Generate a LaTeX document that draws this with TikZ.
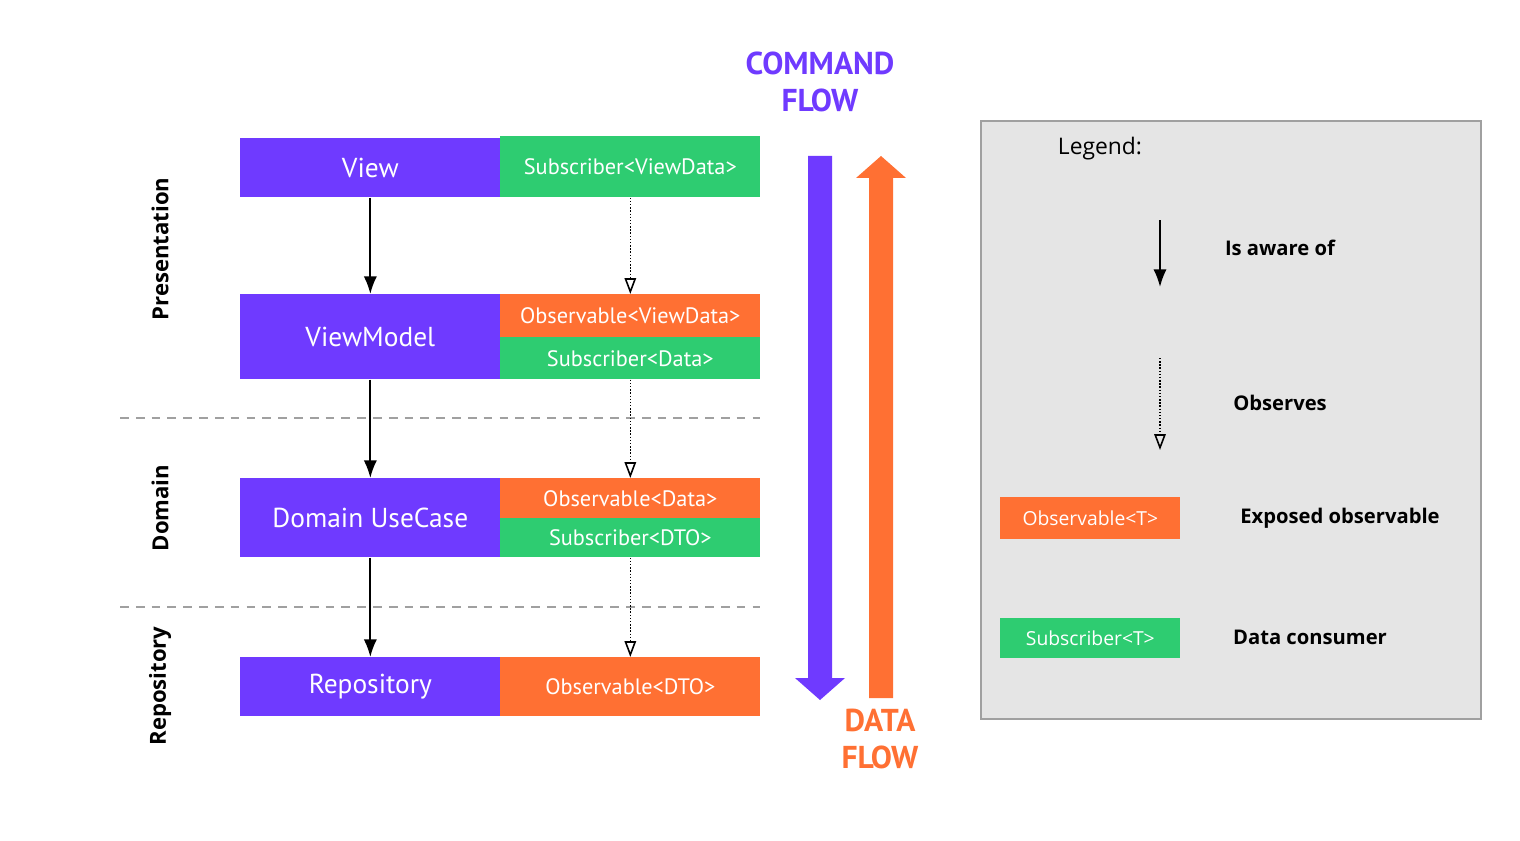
\documentclass[tikz,border=0pt]{standalone}
\usepackage{fontspec}
\setmainfont{PT Sans}
\newfontfamily\legfont{Open Sans}
\usetikzlibrary{arrows.meta}
\definecolor{cmdpurple}{HTML}{6F3AFF}
\definecolor{obsorange}{HTML}{FF7033}
\definecolor{subgreen}{HTML}{2ECC71}
\definecolor{leggray}{HTML}{E5E5E5}
\definecolor{legborder}{HTML}{A0A0A0}

\begin{document}
\begin{tikzpicture}[x=0.02cm,y=-0.02cm]
\tikzset{
	layer/.style={fill=cmdpurple, text=white,
		anchor=north west, inner sep=0pt,
		minimum width=5.2cm,
		font=\fontsize{15.6}{18}\selectfont},
	obs/.style={fill=obsorange, text=white,
		anchor=north west, inner sep=0pt,
		minimum width=5.2cm,
		font=\fontsize{12.7}{15}\selectfont},
	sub/.style={obs, fill=subgreen},
	aware/.style={-{Latex[length=10pt,width=7.5pt]}, line width=1.1pt},
	observes/.style={densely dotted, -{Triangle[open,length=9pt,width=6.5pt,line width=0.9pt]}, line width=0.8pt},
	sepline/.style={dashed, dash pattern=on 5pt off 4pt, draw=legborder, line width=1pt},
	side/.style={rotate=90, font=\legfont\bfseries\fontsize{12.6}{14}\selectfont},
	flowlbl/.style={align=center, font=\bfseries\fontsize{18}{21}\selectfont},
	legtext/.style={font=\legfont\bfseries\fontsize{11.5}{13}\selectfont},
}
\useasboundingbox (0,0) rectangle (1520,841);

% layers
\node[layer, minimum height=1.18cm] (VIEW) at (240,138) {View};
\node[sub, minimum height=1.22cm] (SUBVD) at (500,136) {Subscriber<ViewData>};
\node[layer, minimum height=1.7cm] (VM) at (240,294) {ViewModel};
\node[obs, minimum height=0.86cm] (OBSVD) at (500,294) {Observable<ViewData>};
\node[sub, minimum height=0.84cm] (SUBD) at (500,337) {Subscriber<Data>};
\node[layer, minimum height=1.58cm] (UC) at (240,478) {Domain UseCase};
\node[obs, minimum height=0.8cm] (OBSD) at (500,478) {Observable<Data>};
\node[sub, minimum height=0.78cm] (SUBDTO) at (500,518) {Subscriber<DTO>};
\node[layer, minimum height=1.18cm] (REPO) at (240,657) {Repository};
\node[obs, minimum height=1.18cm] (OBSDTO) at (500,657) {Observable<DTO>};

\node[side] (PRESLBL) at (160,249) {Presentation};
\node[side] (DOMLBL) at (160,508) {Domain};
\node[side] (REPOLBL) at (160,686) {Repository};

\draw[sepline] (120,418) -- (760,418);
\draw[sepline] (120,607) -- (760,607);

{\draw[aware] (VIEW) -- (VM);}
{\draw[aware] (VM) -- (UC);}
{\draw[aware] (UC) -- (REPO);}
{\draw[observes] (SUBVD) -- (OBSVD);}
{\draw[observes] (SUBD) -- (OBSD);}
{\draw[observes] (SUBDTO) -- (OBSDTO);}

% flows
\fill[cmdpurple] (808,156) -- (832,156) -- (832,678) -- (845,678) -- (820,700) -- (795,678) -- (808,678) -- cycle;
\fill[obsorange] (869,698) -- (893,698) -- (893,178) -- (906,178) -- (881,156) -- (856,178) -- (869,178) -- cycle;
\node[flowlbl, text=cmdpurple] (CMDLBL) at (820,82) {COMMAND\\FLOW};
\node[flowlbl, text=obsorange] (DATALBL) at (880,739) {DATA\\FLOW};

% legend
\node[draw=legborder, fill=leggray, line width=1.2pt, anchor=north west,
	minimum width=10cm, minimum height=11.96cm] (LEGEND) at (980,120) {};
\node[font=\legfont\fontsize{13}{15}\selectfont] (LEGLBL) at (1100,149) {Legend:};
\coordinate (AWTOP) at (1160,220);
\coordinate (AWBOT) at (1160,287);
\coordinate (OBTOP) at (1160,358);
\coordinate (OBBOT) at (1160,450);
{\draw[aware] (AWTOP) -- (AWBOT);}
{\draw[observes] (OBTOP) -- (OBBOT);}
\node[legtext] (AWLBL) at (1280,248) {Is aware of};
\node[legtext] (OBLBL) at (1280,403) {Observes};
\node[obs, minimum width=3.6cm, minimum height=0.84cm, font=\legfont\fontsize{11}{13}\selectfont] (OBST) at (1000,497) {Observable<T>};
\node[sub, minimum width=3.6cm, minimum height=0.8cm, font=\legfont\fontsize{11}{13}\selectfont] (SUBT) at (1000,618) {Subscriber<T>};
\node[legtext] (EXPLBL) at (1340,518) {Exposed observable};
\node[legtext] (CONSLBL) at (1310,637) {Data consumer};

\end{tikzpicture}
\end{document}
